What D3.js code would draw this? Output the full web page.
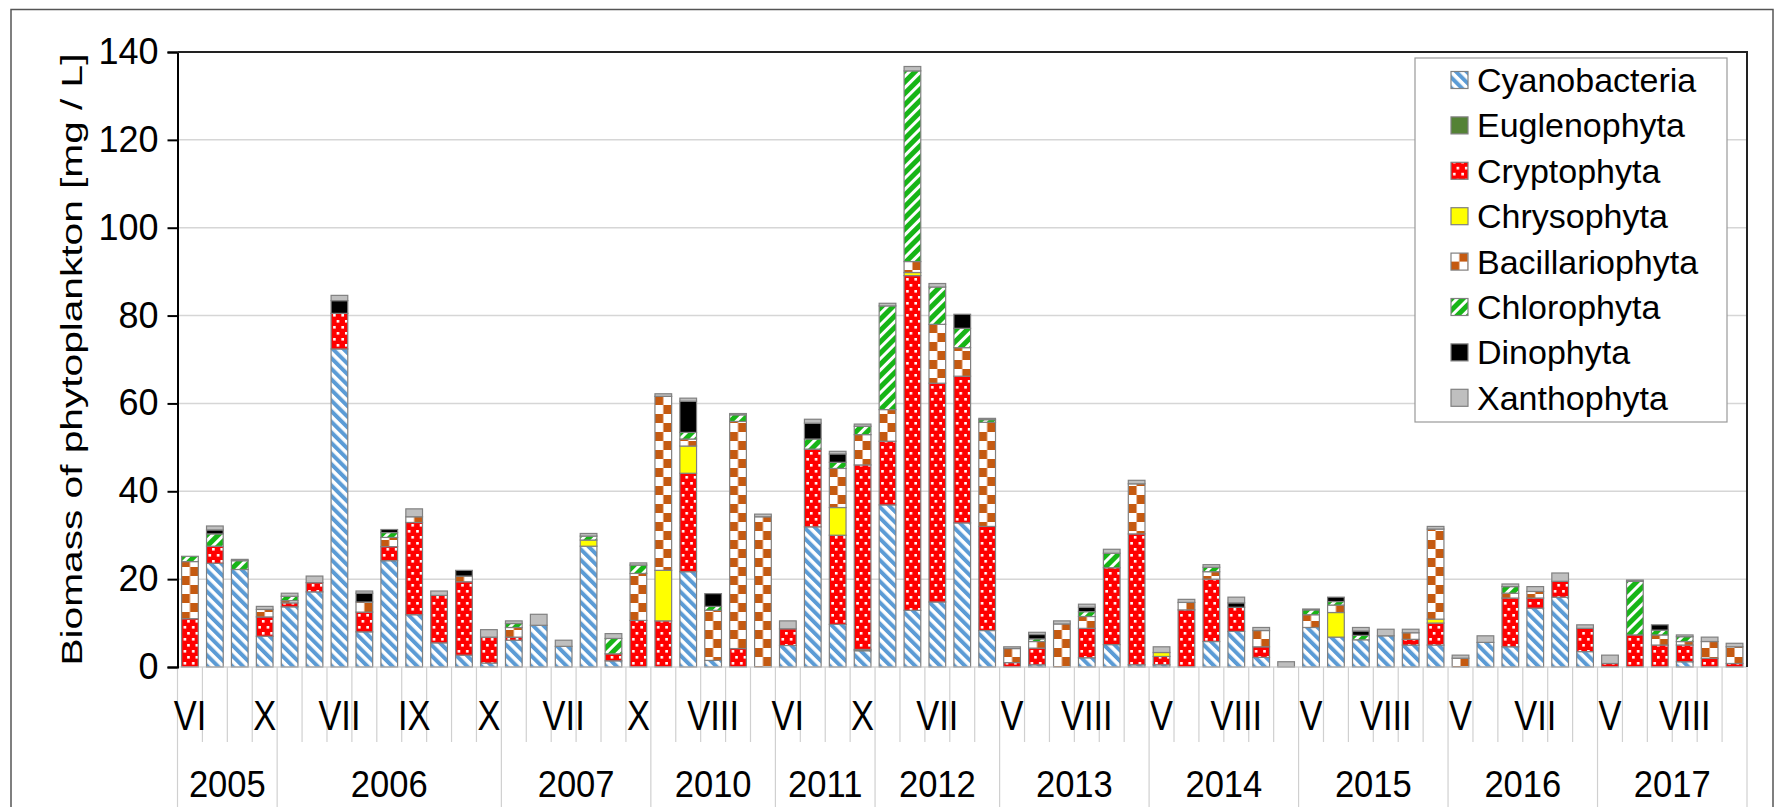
<!DOCTYPE html>
<html lang="en">
<head>
<meta charset="utf-8">
<title>Biomass of phytoplankton</title>
<script src="https://cdn.jsdelivr.net/npm/d3@7"></script>
<style>
  body { margin: 0; background: #fff; }
  text { font-family: "Liberation Sans", Arial, sans-serif; fill: #000; }
</style>
</head>
<body>
<script>
// sampling years and how many samples each one has
var years = ["2005", "2006", "2007", "2010", "2011", "2012", "2013", "2014", "2015", "2016", "2017"];
var yearCounts = [4, 9, 6, 5, 4, 5, 6, 6, 6, 6, 6];

// month of each sample (only every 3rd one is printed, like the original)
var months = ["VI","VIII","IX","X",
  "V","VI","VII","VII","VIII","IX","IX","X","X",
  "V","VI","VII","VIII","IX","X",
  "VI","VII","VIII","IX","X",
  "VI","VIII","IX","X",
  "V","VI","VII","VIII","IX",
  "V","VI","VII","VIII","IX","X",
  "V","VI","VII","VIII","IX","X",
  "V","VI","VII","VIII","IX","X",
  "V","VI","VI","VII","VIII","IX",
  "V","VI","VII","VIII","IX","X"];

var yTicks = [0, 20, 40, 60, 80, 100, 120, 140];

// biomass per group, mg/L
var cyanobacteria = [0,23.6,22.2,7, 13.7,17.1,72.4,8,24.2,11.9,5.5,2.7,0.9, 6.1,9.5,4.7,27.5,1.4,0,
  0,21.7,1.5,0,0, 4.9,31.9,9.7,3.7, 36.9,12.9,14.8,32.8,8.3, 0,0.5,0,2.1,5.1,0.5,
  0.5,0,5.8,8.1,2.2,0, 9,6.8,6.2,7.1,5,5, 0,5.6,4.6,13.4,15.9,3.5, 0,0,0,1.2,0,0];
var euglenophyta = [0,0,0,0, 0,0,0,0,0,0,0,0,0, 0,0,0,0,0,0,
  0,0,0,0,0, 0,0,0,0.3, 0,0,0,0,0, 0,0,0,0,0,0,
  0,0,0,0,0,0, 0,0,0,0,0,0, 0,0,0,0,0,0, 0,0,0,0,0,0];
var cryptophyta = [11,3.9,0,4.4, 0.9,2.1,8.1,4.5,3.2,21,10.8,16.7,5.9, 0.7,0,0,0,1.6,10.6,
  10.5,22.4,0,4.2,0, 3.8,17.7,20.3,42, 14.5,76.2,49.8,33.4,23.7, 1,3.8,0,6.7,17.5,29.8,
  1.9,13,14.2,5.5,2.4,0, 0,0,0,0,1.3,5, 0,0,11.1,2.3,3.6,5.3, 0.8,7.3,5,3.8,2,0.8];
var chrysophyta = [0,0,0,0, 0,0,0,0,0,0,0,0,0, 0,0,0,1.4,0,0,
  11.5,6.2,0,0,0, 0,0,6.3,0, 0,0.7,0,0,0, 0,0,0,0,0,0,
  0.9,0,0,0,0,0, 0,5.6,0,0,0,0.9, 0,0,0,0,0,0, 0,0,0,0,0,0];
var bacillariophyta = [13,0,0,1.7, 0.5,0,0,2.3,2.1,1.3,0,1.3,0, 2.2,0,0,0,0,10.7,
  39.6,1.6,11.4,51.7,34.2, 0,0,8.9,6.9, 7.2,2.5,13.4,6.5,23.7, 3.2,1.5,9.8,2.7,0,11.4,
  0,1.7,1.7,0,3.7,0, 2.9,1.7,0,0,1.5,20.5, 2,0,1.1,1.5,0,0, 0,0,2.3,0.8,3.8,3.8];
var chlorophyta = [1.2,2.8,2,0, 1,0,0,0,1.1,0,0,0,0, 0.9,0,0,0.9,3.5,1.9,
  0,1.5,0.9,1.5,0, 0,2.3,1.4,1.9, 23.6,43.4,8.5,4.4,0.6, 0,0.6,0,1.1,3.3,0,
  0,0,1,0,0,0, 1.1,0.8,1,0,0,0, 0,0,1.5,0,0,0, 0,12.2,1.1,1.1,0,0];
var dinophyta = [0,0.9,0,0, 0,0,2.9,2,0.7,0,0,1.3,0, 0,0,0,0,0,0,
  0,7.1,2.9,0,0, 0,3.6,1.9,0, 0,0,0,3.2,0, 0,1,0,1,0,0,
  0,0,0,1,0,0, 0,1,1,0,0,0, 0,0,0,0,0,0, 0,0,1.2,0,0,0];
var xanthophyta = [0,0.9,0.3,0.7, 0.7,1.5,1.2,0.5,0,1.8,1,0,1.7, 0.6,2.5,1.4,0.6,1.1,0.5,
  0.6,0.7,0,0.3,0.6, 1.8,0.9,0.6,0.5, 0.6,1,0.8,0,0.3, 0.4,0.5,0.7,0.7,0.9,0.8,
  1.3,0.7,0.6,1.3,0.7,1.2, 0.2,0,0.8,1.5,0.8,0.6, 0.7,1.5,0.6,1.1,1.9,0.8, 1.9,0.3,0,0.4,1,0.8];

var seriesNames = ["Cyanobacteria", "Euglenophyta", "Cryptophyta", "Chrysophyta",
                   "Bacillariophyta", "Chlorophyta", "Dinophyta", "Xanthophyta"];
var seriesValues = [cyanobacteria, euglenophyta, cryptophyta, chrysophyta,
                    bacillariophyta, chlorophyta, dinophyta, xanthophyta];

// table for d3.stack
var table = months.map(function(m, i) {
    var row = { i: i };
    seriesNames.forEach(function(s, k) { row[s] = seriesValues[k][i]; });
    return row;
});

var W = 1776, H = 807;
var plotL = 177.5, plotR = 1747, plotT = 52, plotB = 667;

var svg = d3.select("body").append("svg").attr("width", W).attr("height", H);

var x = d3.scaleBand().domain(d3.range(months.length)).range([plotL, plotR])
    .paddingInner(0.33).paddingOuter(0.165);
var y = d3.scaleLinear().domain([0, 140]).range([plotB, plotT]);
var step = x.step(), bw = x.bandwidth();

// fill patterns
var defs = svg.append("defs");
function pat(id, w, h, tr) {
    var p = defs.append("pattern").attr("id", id).attr("patternUnits", "userSpaceOnUse")
        .attr("width", w).attr("height", h);
    if (tr) p.attr("patternTransform", tr);
    return p;
}
var p1 = pat("pCyano", 7.5, 7.5, "rotate(-45)");
p1.append("rect").attr("width", 7.5).attr("height", 7.5).attr("fill", "#fff");
p1.append("rect").attr("width", 4).attr("height", 7.5).attr("fill", "#5b9bd5");

var p2 = pat("pCrypto", bw / 2, 12);
p2.append("rect").attr("width", bw / 2).attr("height", 12).attr("fill", "#ff0000");
p2.append("rect").attr("x", 2).attr("y", 2).attr("width", 2.6).attr("height", 2.6).attr("fill", "#fff");
p2.append("rect").attr("x", bw / 2 - 2.8).attr("y", 8).attr("width", 2.6).attr("height", 2.6).attr("fill", "#fff");

var p3 = pat("pBacil", bw, 18);
p3.append("rect").attr("width", bw).attr("height", 18).attr("fill", "#fff");
p3.append("rect").attr("width", bw / 2).attr("height", 9).attr("fill", "#c55a11");
p3.append("rect").attr("x", bw / 2).attr("y", 9).attr("width", bw / 2).attr("height", 9).attr("fill", "#c55a11");

var p4 = pat("pChloro", 8, 8, "rotate(45)");
p4.append("rect").attr("width", 8).attr("height", 8).attr("fill", "#fff");
p4.append("rect").attr("width", 5).attr("height", 8).attr("fill", "#17b517");

var fills = {
    "Cyanobacteria": "url(#pCyano)",
    "Euglenophyta": "#548235",
    "Cryptophyta": "url(#pCrypto)",
    "Chrysophyta": "#ffff00",
    "Bacillariophyta": "url(#pBacil)",
    "Chlorophyta": "url(#pChloro)",
    "Dinophyta": "#000",
    "Xanthophyta": "#bfbfbf"
};

// outer frame
svg.append("rect").attr("x", 11).attr("y", 9.5).attr("width", 1762).attr("height", 830)
    .attr("fill", "none").attr("stroke", "#555").attr("stroke-width", 1.5);

// gridlines
svg.append("g").selectAll("line").data(yTicks.filter(function(d) { return d > 0 && d < 140; }))
    .enter().append("line")
    .attr("x1", plotL).attr("x2", plotR)
    .attr("y1", function(d) { return y(d); }).attr("y2", function(d) { return y(d); })
    .attr("stroke", "#d6d6d6").attr("stroke-width", 1.5);

// stacked bars, each bar in its own group so the patterns line up with it
var stack = d3.stack().keys(seriesNames)(table);
var segs = [];
stack.forEach(function(layer) {
    layer.forEach(function(d, i) {
        if (d[1] - d[0] > 0) segs.push({ key: layer.key, i: i, y0: d[0], y1: d[1] });
    });
});
var barG = svg.append("g").selectAll("g").data(d3.range(months.length)).enter().append("g")
    .attr("transform", function(i) { return "translate(" + x(i) + ",0)"; });
barG.selectAll("rect")
    .data(function(i) { return segs.filter(function(s) { return s.i === i; }); })
    .enter().append("rect")
    .attr("x", 0)
    .attr("width", bw)
    .attr("y", function(d) { return y(d.y1); })
    .attr("height", function(d) { return y(d.y0) - y(d.y1); })
    .attr("fill", function(d) { return fills[d.key]; })
    .attr("stroke", "#808080").attr("stroke-width", 1.2);

// category axis: month lines, year lines, labels
var bottomG = svg.append("g");
bottomG.append("line").attr("x1", plotL).attr("x2", plotR).attr("y1", plotB).attr("y2", plotB)
    .attr("stroke", "#bfbfbf").attr("stroke-width", 1.2);
var yearStarts = [0];
yearCounts.forEach(function(c, k) { yearStarts.push(yearStarts[k] + c); });
bottomG.selectAll("line.m").data(d3.range(months.length + 1)).enter().append("line")
    .attr("class", "m")
    .attr("x1", function(i) { return plotL + i * step; })
    .attr("x2", function(i) { return plotL + i * step; })
    .attr("y1", plotB)
    .attr("y2", function(i) { return yearStarts.indexOf(i) >= 0 ? H : 742; })
    .attr("stroke", "#d0d0d0").attr("stroke-width", 1.2);
bottomG.selectAll("text.m").data(d3.range(0, months.length, 3)).enter().append("text")
    .attr("class", "m")
    .attr("transform", function(i) { return "translate(" + (x(i) + bw / 2) + ",730) scale(0.82,1)"; })
    .attr("text-anchor", "middle").style("font-size", "42px")
    .text(function(i) { return months[i]; });
bottomG.selectAll("text.yr").data(years).enter().append("text")
    .attr("class", "yr")
    .attr("transform", function(d, k) {
        var cx = plotL + (yearStarts[k] + yearCounts[k] / 2) * step;
        return "translate(" + cx + ",797) scale(0.96,1)";
    })
    .attr("text-anchor", "middle").style("font-size", "36px")
    .text(function(d) { return d; });

// value axis
var yAxis = d3.axisLeft(y).tickValues(yTicks).tickSize(10).tickPadding(9);
var ya = svg.append("g").attr("transform", "translate(" + plotL + ",0)").call(yAxis);
ya.select(".domain").attr("stroke", "#000").attr("stroke-width", 2);
ya.selectAll(".tick line").attr("stroke", "#000").attr("stroke-width", 2);
ya.selectAll(".tick text").style("font-size", "36px")
    .style("font-family", "'Liberation Sans', Arial, sans-serif").attr("fill", "#000");

// plot border (top, right)
svg.append("path")
    .attr("d", "M" + plotL + "," + plotT + "H" + plotR + "V" + plotB)
    .attr("fill", "none").attr("stroke", "#222").attr("stroke-width", 2);

// axis title
svg.append("text")
    .attr("transform", "translate(82," + ((plotT + plotB) / 2) + ") rotate(-90)")
    .attr("text-anchor", "middle").style("font-size", "29px")
    .attr("textLength", 612).attr("lengthAdjust", "spacingAndGlyphs")
    .text("Biomass of phytoplankton [mg / L]");

// legend
var lg = svg.append("g");
lg.append("rect").attr("x", 1415).attr("y", 58).attr("width", 312).attr("height", 364)
    .attr("fill", "#fff").attr("stroke", "#999").attr("stroke-width", 1.2);
var item = lg.selectAll("g.it").data(seriesNames).enter().append("g")
    .attr("class", "it")
    .attr("transform", function(d, k) { return "translate(1451," + (80 + k * 45.4) + ")"; });
item.append("rect").attr("x", 0).attr("y", -8.5).attr("width", 17).attr("height", 17)
    .attr("fill", function(d) { return fills[d]; })
    .attr("stroke", "#808080").attr("stroke-width", 1.2);
item.append("text").attr("x", 26).attr("dy", "0.35em").style("font-size", "34px")
    .text(function(d) { return d; });
</script>
</body>
</html>
